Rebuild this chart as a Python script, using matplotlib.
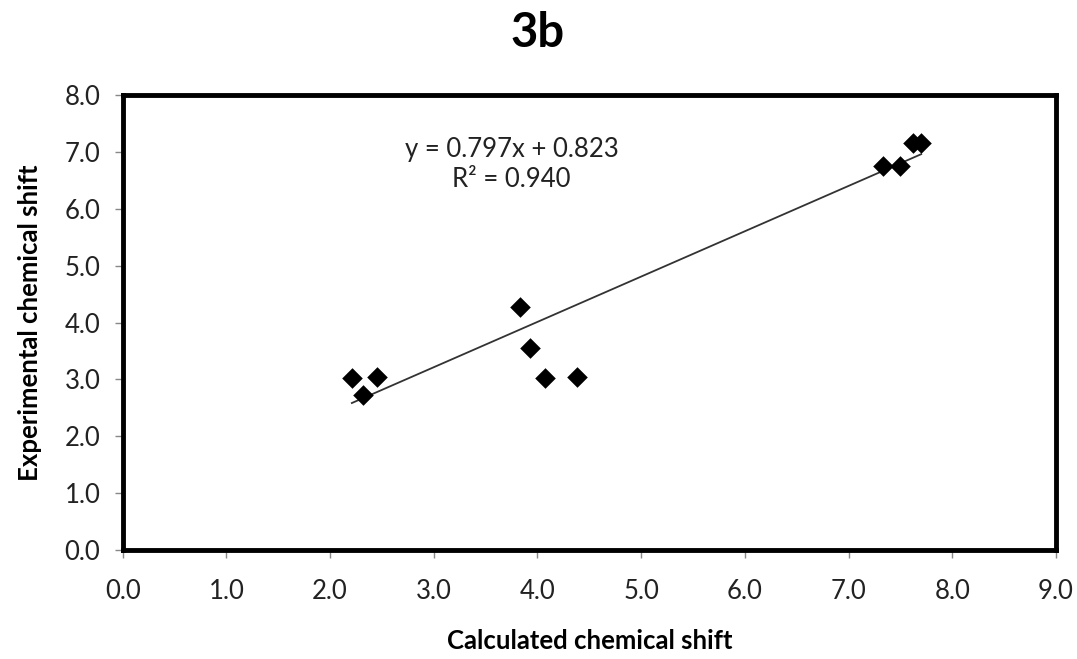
import matplotlib
matplotlib.use("Agg")
import matplotlib.pyplot as plt
import numpy as np

plt.rcParams['font.family'] = ['Lato', 'DejaVu Sans']

title = "3b"
x_label = "Calculated chemical shift"
y_label = "Experimental chemical shift"

calc_shift = [2.21, 2.45, 2.32, 3.83, 3.93, 4.07, 4.38, 7.33, 7.50, 7.62, 7.70]
exp_shift = [3.03, 3.05, 2.72, 4.27, 3.56, 3.03, 3.05, 6.75, 6.75, 7.15, 7.15]

slope = 0.797
intercept = 0.823
r_squared = 0.940

x_ticks = [0, 1, 2, 3, 4, 5, 6, 7, 8, 9]
y_ticks = [0, 1, 2, 3, 4, 5, 6, 7, 8]

fig = plt.figure(figsize=(10.77, 6.59), dpi=100)
ax = fig.add_axes([0.1139, 0.1654, 0.8666, 0.6904])

ax.scatter(calc_shift, exp_shift, marker='D', s=110, color='black', zorder=3, linewidths=0)

xs = np.array([min(calc_shift), max(calc_shift)])
ax.plot(xs, slope * xs + intercept, color='#333333', linewidth=1.3, zorder=2)

ax.set_xlim(0, 9)
ax.set_ylim(0, 8)
ax.set_xticks(x_ticks)
ax.set_yticks(y_ticks)
ax.set_xticklabels([f"{v:.1f}" for v in x_ticks])
ax.set_yticklabels([f"{v:.1f}" for v in y_ticks])
ax.tick_params(axis='both', direction='out', length=6, width=1, color='#888888',
               labelsize=18.5, labelcolor='#222222')
ax.tick_params(axis='x', pad=15)
ax.tick_params(axis='y', pad=10)

for s in ax.spines.values():
    s.set_linewidth(3.5)
    s.set_color('black')

ax.set_xlabel(x_label, fontsize=18.5, fontweight='bold', labelpad=18)
ax.set_ylabel(y_label, fontsize=18.5, fontweight='bold', labelpad=16)

fig.text(0.499, 0.950, title, ha='center', va='center', fontsize=34, fontweight='bold')

ax.text(3.75, 6.78, f"y = {slope:.3f}x + {intercept:.3f}\nR\u00b2 = {r_squared:.3f}",
        ha='center', va='center', fontsize=18.5, color='#222222', linespacing=1.25)

fig.savefig("out.png", dpi=100)
